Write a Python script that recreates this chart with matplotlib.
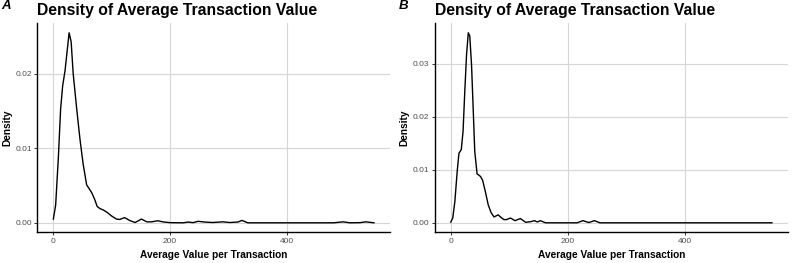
import matplotlib
matplotlib.use("Agg")
import matplotlib.pyplot as plt

plt.rcParams['font.family'] = ['Liberation Sans', 'DejaVu Sans']

TITLE = 'Density of Average Transaction Value'
XLABEL = 'Average Value per Transaction'
YLABEL = 'Density'
PANELS = ['A', 'B']

# panel A density curve
a_x = [0, 4, 8.5, 12.5, 16, 20, 24, 27, 30.5, 34, 40, 45.5, 51, 57, 62, 66, 71, 75,
       80, 86, 92, 100, 108, 114, 122, 131, 140, 151, 160, 168, 179, 188, 200, 222,
       231, 239, 248, 259, 273, 290, 302, 316, 323, 333, 340, 480, 496, 508, 525,
       535, 549]
a_y = [0.0005, 0.0024, 0.0086, 0.0153, 0.0184, 0.0204, 0.0233, 0.0255, 0.0243,
       0.0200, 0.0153, 0.0113, 0.0079, 0.0051, 0.0045, 0.0040, 0.0031, 0.0022,
       0.0019, 0.0017, 0.0014, 0.0009, 0.0005, 0.00045, 0.0007, 0.0003, 0.00004,
       0.0005, 0.00013, 0.00013, 0.00027, 0.00012, 0.00002, 0.0, 0.0001, 0.00002,
       0.0002, 0.0001, 0.00004, 0.00013, 0.00004, 0.0001, 0.00032, 0.0, 0.0, 0.0,
       0.00013, 0.0, 0.00002, 0.00013, 0.0]

# panel B density curve
b_x = [0, 3.4, 7, 11, 14, 18, 21, 24, 27, 30, 32.5, 35.5, 38.5, 41, 45, 48, 51,
       54.5, 59.3, 64, 69, 74, 81, 86, 91, 95, 102, 110, 119, 128, 136, 143, 148,
       153, 162, 216, 226, 236, 245.6, 255, 549]
b_y = [0.00013, 0.0009, 0.0040, 0.0097, 0.0131, 0.0138, 0.0172, 0.0248, 0.0317,
       0.0358, 0.0352, 0.0298, 0.0210, 0.0135, 0.0092, 0.0090, 0.0087, 0.0080,
       0.0058, 0.0034, 0.0019, 0.0011, 0.0015, 0.0010, 0.0006, 0.0006, 0.0009,
       0.0004, 0.0008, 0.0001, 0.0002, 0.0004, 0.00015, 0.0004, 0.0, 0.0, 0.0004,
       0.00005, 0.0004, 0.0, 0.0]

x_ticks = [0, 200, 400]
a_yticks = [0.00, 0.01, 0.02]
b_yticks = [0.00, 0.01, 0.02, 0.03]

W, H = 793, 263
fig = plt.figure(figsize=(W / 100, H / 100), dpi=100)

# axes boxes in pixels: left, right, top, bottom
boxes = [(37.3, 390, 23.3, 232.3), (434.7, 788, 23.3, 232.3)]
data = [(a_x, a_y, a_yticks), (b_x, b_y, b_yticks)]

for (l, r, t, b), (xs, ys, yt), tag in zip(boxes, data, PANELS):
    ax = fig.add_axes([l / W, 1 - b / H, (r - l) / W, (b - t) / H])
    ax.plot(xs, ys, color='black', lw=1.0)
    ax.margins(x=0.05, y=0.05)
    ax.set_xticks(x_ticks)
    ax.set_yticks(yt)
    ax.set_yticklabels(['%.2f' % v for v in yt])
    ax.grid(True, color='#d6d6d6', lw=0.8)
    ax.set_axisbelow(True)
    for s in ['top', 'right']:
        ax.spines[s].set_visible(False)
    for s in ['left', 'bottom']:
        ax.spines[s].set_linewidth(1.0)
        ax.spines[s].set_color('black')
    ax.tick_params(length=2.2, width=0.7, color='#333333', labelcolor='#4d4d4d',
                   labelsize=6, pad=1.6)
    cx = (l + r) / 2 / W
    fig.text(l / W, 1 - 15 / H, TITLE, fontsize=11.3, fontweight='bold',
             ha='left', va='baseline')
    fig.text(cx, 1 - 255 / H, XLABEL, fontsize=7.3, fontweight='bold',
             ha='center', va='center')
    fig.text((l - 30) / W, 1 - 128 / H, YLABEL, fontsize=7.3, fontweight='bold',
             rotation=90, ha='center', va='center')
    fig.text((l - 36) / W, 1.0, tag, fontsize=9.5, fontweight='bold',
             fontstyle='italic', ha='left', va='top')

fig.savefig('out.png', dpi=100)
